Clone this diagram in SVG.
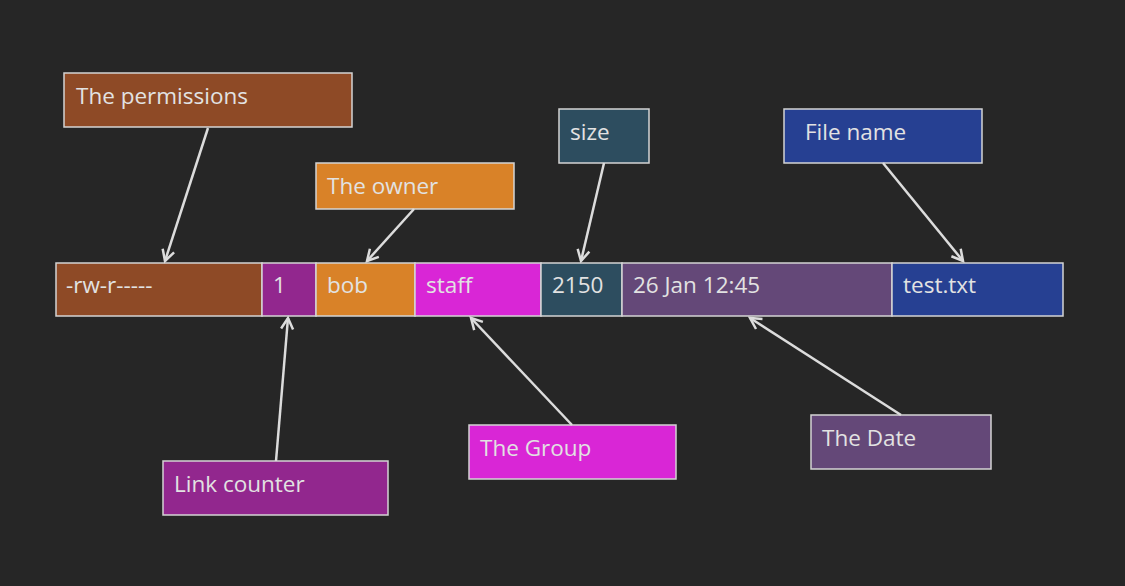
<svg xmlns="http://www.w3.org/2000/svg" width="1125" height="586" viewBox="0 0 1125 586">
<style>
.b{stroke:#d4d4d4;stroke-width:1.5}
.t{font-family:"Open Sans","Noto Sans",sans-serif;font-size:22.5px;fill:#e2e2e2}
.c{stroke:#dcdcdc;stroke-width:2.5;fill:none}
</style>
<defs>
<marker id="ah" viewBox="0 0 12 12" refX="11" refY="6" markerWidth="12" markerHeight="12" markerUnits="userSpaceOnUse" orient="auto" overflow="visible">
<path d="M0,0 L11,6 L0,12" fill="none" stroke="#dcdcdc" stroke-width="2.5"/>
</marker>
</defs>
<rect width="1125" height="586" fill="#262626"/>
<g id="row">
<g id="cell-perm"><rect class="b" x="56" y="263" width="206" height="53" fill="#8E4A26"/><text class="t" x="66" y="293">-rw-r-----</text></g>
<g id="cell-links"><rect class="b" x="262" y="263" width="54" height="53" fill="#92278E"/><text class="t" x="273" y="293">1</text></g>
<g id="cell-owner"><rect class="b" x="316" y="263" width="99" height="53" fill="#D98228"/><text class="t" x="327" y="293">bob</text></g>
<g id="cell-group"><rect class="b" x="415" y="263" width="126" height="53" fill="#D926D6"/><text class="t" x="426" y="293">staff</text></g>
<g id="cell-size"><rect class="b" x="541" y="263" width="81" height="53" fill="#2D4D5F"/><text class="t" x="552" y="293">2150</text></g>
<g id="cell-date"><rect class="b" x="622" y="263" width="270" height="53" fill="#644878"/><text class="t" x="633" y="293">26 Jan 12:45</text></g>
<g id="cell-name"><rect class="b" x="892" y="263" width="171" height="53" fill="#264092"/><text class="t" x="903" y="293">test.txt</text></g>
</g>
<g id="lbl-perm"><rect class="b" x="64" y="73" width="288" height="54" fill="#8E4A26"/><text class="t" x="76" y="104">The permissions</text></g>
<g id="lbl-owner"><rect class="b" x="316" y="163" width="198" height="46" fill="#D98228"/><text class="t" x="327" y="194">The owner</text></g>
<g id="lbl-size"><rect class="b" x="559" y="109" width="90" height="54" fill="#2D4D5F"/><text class="t" x="570" y="140">size</text></g>
<g id="lbl-name"><rect class="b" x="784" y="109" width="198" height="54" fill="#264092"/><text class="t" x="805" y="140">File name</text></g>
<g id="lbl-links"><rect class="b" x="163" y="461" width="225" height="54" fill="#92278E"/><text class="t" x="174" y="492">Link counter</text></g>
<g id="lbl-group"><rect class="b" x="469" y="425" width="207" height="54" fill="#D926D6"/><text class="t" x="480" y="456">The Group</text></g>
<g id="lbl-date"><rect class="b" x="811" y="415" width="180" height="54" fill="#644878"/><text class="t" x="822" y="446">The Date</text></g>
<g id="connectors">
<line class="c" x1="208" y1="128" x2="165" y2="261" marker-end="url(#ah)"/>
<line class="c" x1="414" y1="209" x2="367" y2="261" marker-end="url(#ah)"/>
<line class="c" x1="604" y1="163" x2="581" y2="261" marker-end="url(#ah)"/>
<line class="c" x1="883" y1="163" x2="963" y2="261" marker-end="url(#ah)"/>
<line class="c" x1="276" y1="461" x2="288" y2="318" marker-end="url(#ah)"/>
<line class="c" x1="572" y1="425" x2="471" y2="318" marker-end="url(#ah)"/>
<line class="c" x1="901" y1="415" x2="750" y2="318" marker-end="url(#ah)"/>
</g>
</svg>
